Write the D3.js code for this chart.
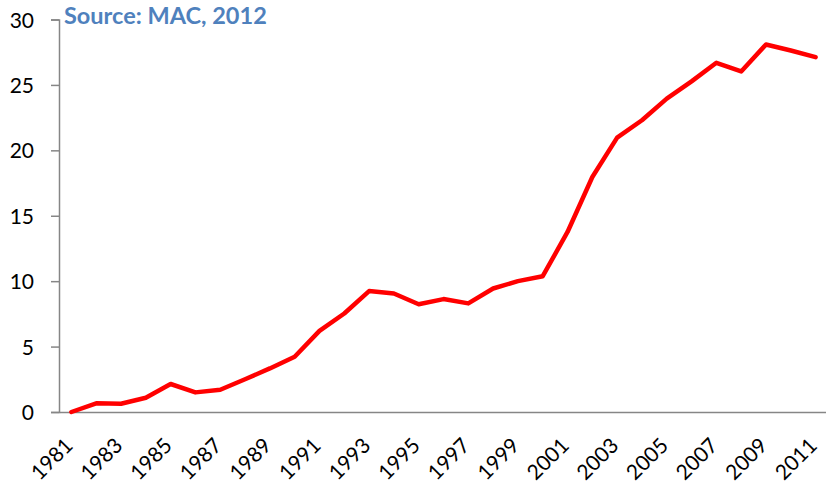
<!DOCTYPE html>
<html><head><meta charset="utf-8">
<script src="https://cdn.jsdelivr.net/npm/d3@7"></script>
<style>html,body{margin:0;padding:0;background:#fff;}svg{display:block;}</style>
</head><body>
<svg id="chart" width="826" height="488"></svg>
<script>
const years = d3.range(1981, 2012);
const values = [0, 0.66, 0.63, 1.09, 2.14, 1.50, 1.70, 2.5, 3.33, 4.22, 6.2, 7.53, 9.24, 9.06, 8.24,
  8.63, 8.3, 9.44, 10.0, 10.38, 13.76, 17.96, 20.97, 22.3, 23.95, 25.27, 26.69, 26.03, 28.09, 27.63, 27.12];
const yTicks = [0, 5, 10, 15, 20, 25, 30];
const xLabels = years.filter((v, i) => i % 2 === 0);
const sourceText = "Source: MAC, 2012";

(function () {
const svg = d3.select("#chart");
const mLeft = 59, mRight = 828, mTop = 19.5, mBottom = 412;
const font = "Lato, 'Open Sans', sans-serif";

const x = d3.scaleBand().domain(years).range([mLeft, mRight]);
const y = d3.scaleLinear().domain([0, 30]).range([mBottom, mTop]);

// y axis
const yAxis = svg.append("g").attr("transform", `translate(${mLeft},0)`)
  .call(d3.axisLeft(y).tickValues(yTicks).tickSize(8).tickPadding(17));
yAxis.select(".domain").attr("stroke", "#868686").attr("stroke-width", 1.5);
yAxis.selectAll(".tick line").attr("stroke", "#868686").attr("stroke-width", 1.5);
yAxis.selectAll("text").attr("font-family", font).attr("font-size", 21).attr("fill", "#000")
  .attr("dy", "0.36em");

// x axis
const xAxis = svg.append("g").attr("transform", `translate(0,${mBottom})`)
  .call(d3.axisBottom(x).tickValues(xLabels).tickSize(0).tickPadding(0).tickSizeOuter(0));
xAxis.select(".domain").attr("stroke", "#868686").attr("stroke-width", 1.5);
xAxis.selectAll("text")
  .attr("font-family", font).attr("font-size", 21).attr("fill", "#000")
  .attr("text-anchor", "end")
  .attr("dy", null)
  .attr("transform", "translate(-1,31) rotate(-45)")
  .attr("y", 0).attr("x", 0).attr("dominant-baseline", "middle");

// line
const line = d3.line()
  .x((d, i) => x(years[i]) + x.bandwidth() / 2)
  .y(d => y(d));
svg.append("path").datum(values)
  .attr("fill", "none").attr("stroke", "#FF0000").attr("stroke-width", 4.5)
  .attr("stroke-linejoin", "round").attr("stroke-linecap", "round")
  .attr("d", line);

// source
svg.append("text").attr("x", 64).attr("y", 24)
  .attr("font-family", font).attr("font-weight", "bold").attr("font-size", 23.5)
  .attr("fill", "#4F81BD").text(sourceText);
})();
</script>
</body></html>
